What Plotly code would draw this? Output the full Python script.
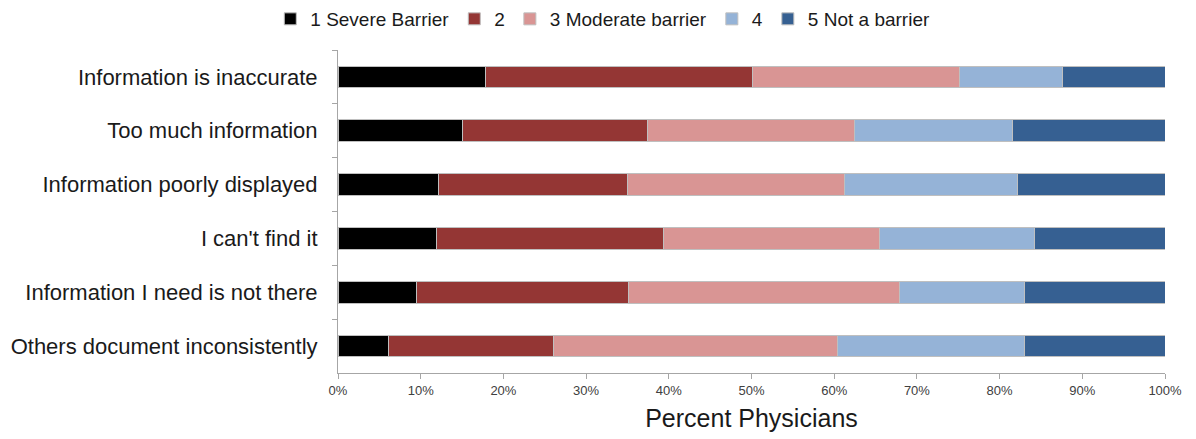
import plotly.graph_objects as go

# Survey items, listed top to bottom
categories = [
    "Information is inaccurate",
    "Too much information",
    "Information poorly displayed",
    "I can't find it",
    "Information I need is not there",
    "Others document inconsistently",
]

# Percent of physicians choosing each rating
severe = [17.8, 15.1, 12.2, 11.9, 9.5, 6.1]
rating2 = [32.3, 22.3, 22.8, 27.5, 25.6, 19.9]
moderate = [25.0, 25.0, 26.2, 26.1, 32.8, 34.4]
rating4 = [12.5, 19.1, 21.0, 18.7, 15.1, 22.6]
not_barrier = [12.4, 18.5, 17.8, 15.8, 17.0, 17.0]

series_names = ["1 Severe Barrier", "2", "3 Moderate barrier", "4", "5 Not a barrier"]
series_values = [severe, rating2, moderate, rating4, not_barrier]
series_colors = ["#000000", "#943634", "#D99594", "#95B3D7", "#366092"]

tick_vals = list(range(0, 101, 10))
tick_text = [f"{v}%" for v in tick_vals]

fig = go.Figure()
for name, vals, color in zip(series_names, series_values, series_colors):
    fig.add_trace(go.Bar(
        y=categories,
        x=vals,
        name=name,
        orientation="h",
        width=0.4,
        marker=dict(color=color, line=dict(color="#BFBFBF", width=1)),
    ))

fig.update_layout(
    barmode="stack",
    width=1196,
    height=439,
    margin=dict(l=338, r=31, t=48, b=61),
    paper_bgcolor="white",
    plot_bgcolor="white",
    font=dict(family="Liberation Sans, Arial, sans-serif", color="#1A1A1A"),
    legend=dict(
        orientation="h",
        xref="container", yref="container",
        x=0.504, xanchor="center",
        y=1.0, yanchor="top",
        font=dict(size=19),
        traceorder="normal",
    ),
    showlegend=True,
)

fig.update_xaxes(
    range=[0, 100],
    tickvals=tick_vals,
    ticktext=tick_text,
    tickfont=dict(size=13, color="#404040"),
    showgrid=False,
    zeroline=False,
    showline=True,
    linecolor="#A6A6A6",
    linewidth=1,
    ticks="outside",
    ticklen=5,
    tickcolor="#A6A6A6",
    title=dict(text="Percent Physicians", font=dict(size=25), standoff=12),
)

fig.update_yaxes(
    categoryorder="array",
    categoryarray=categories,
    autorange="reversed",
    automargin=False,
    tickfont=dict(size=22),
    showgrid=False,
    showline=True,
    linecolor="#A6A6A6",
    linewidth=1,
    ticks="outside",
    tickson="boundaries",
    ticklen=5,
    tickcolor="#A6A6A6",
    ticklabelstandoff=15,
)

fig.write_html("out.html")
